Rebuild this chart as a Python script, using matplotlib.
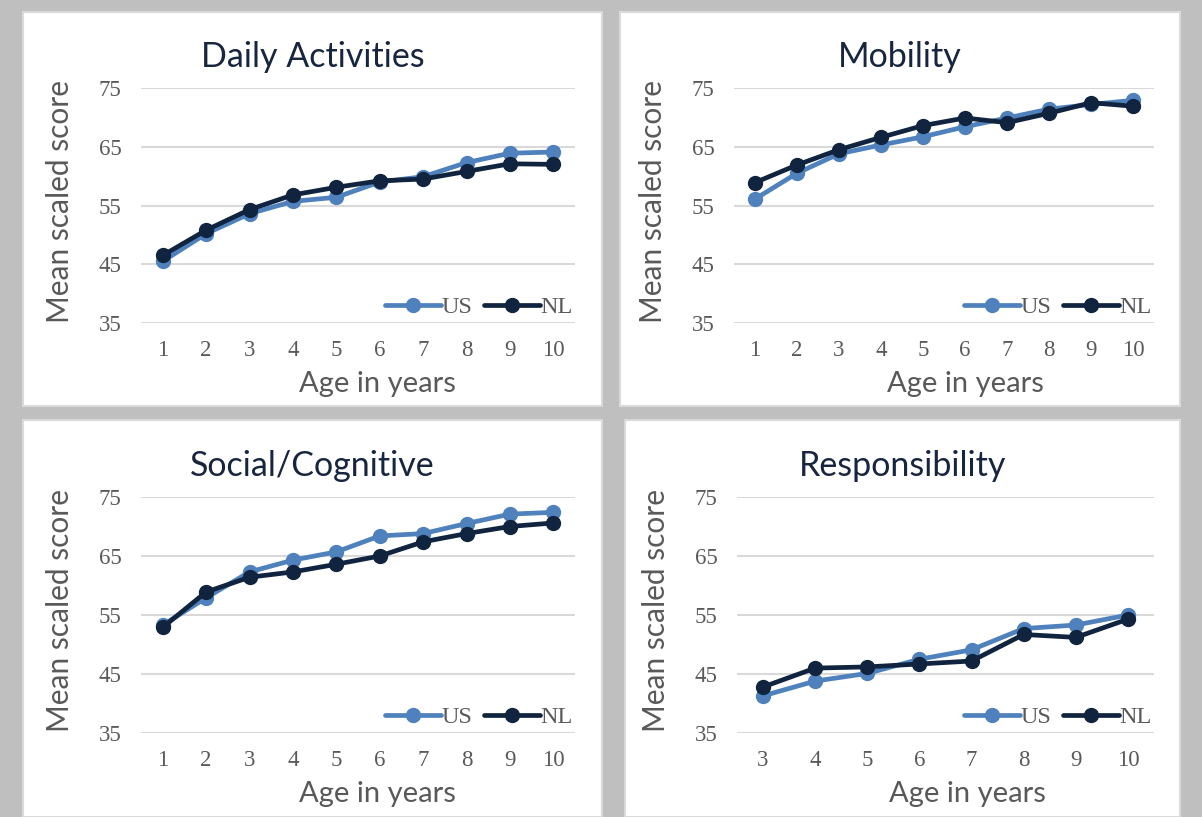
import matplotlib.pyplot as plt
from matplotlib.patches import Rectangle

# --------------------------------------------------
# Data
# --------------------------------------------------
ages_full = [1, 2, 3, 4, 5, 6, 7, 8, 9, 10]
ages_resp = [3, 4, 5, 6, 7, 8, 9, 10]

daily_us = [45.5, 50.2, 53.6, 55.7, 56.4, 59.0, 59.9, 62.3, 63.9, 64.1]
daily_nl = [46.5, 50.8, 54.3, 56.8, 58.1, 59.2, 59.5, 60.8, 62.1, 62.0]

mobility_us = [56.1, 60.5, 63.8, 65.3, 66.7, 68.4, 69.9, 71.4, 72.2, 72.9]
mobility_nl = [58.9, 61.9, 64.5, 66.6, 68.6, 69.9, 69.1, 70.7, 72.5, 71.9]

social_us = [53.3, 57.9, 62.3, 64.3, 65.7, 68.4, 68.8, 70.5, 72.1, 72.4]
social_nl = [52.9, 58.9, 61.4, 62.3, 63.6, 65.0, 67.4, 68.8, 70.0, 70.6]

resp_us = [41.3, 43.8, 45.1, 47.5, 49.1, 52.7, 53.3, 55.0]
resp_nl = [42.8, 46.0, 46.2, 46.7, 47.2, 51.7, 51.2, 54.3]

titles = ["Daily Activities", "Mobility", "Social/Cognitive", "Responsibility"]
y_ticks = [35, 45, 55, 65, 75]

US_COLOR = "#4f81bd"
NL_COLOR = "#10243f"
TITLE_COLOR = "#17253f"
LABEL_COLOR = "#595959"
GRID_COLOR = "#d9d9d9"

W, H = 1202, 817
fig = plt.figure(figsize=(W / 100, H / 100), dpi=100)
fig.patch.set_facecolor("#bfbfbf")

# panel boxes (pixel coords: left, top, right, bottom)
panels = [(23, 12, 602, 406), (620, 12, 1180, 406),
          (23, 420, 602, 817), (625, 420, 1180, 817)]
# axes areas (pixel coords: left, top, right, bottom)
axes_px = [(141, 88, 575, 323), (734, 88, 1154, 323),
           (141, 497, 575, 733), (737, 497, 1154, 733)]

# background axes holding the white panels
bg = fig.add_axes([0, 0, 1, 1], zorder=-1)
bg.set_xlim(0, W)
bg.set_ylim(H, 0)
bg.axis("off")
for (l, t, r, b) in panels:
    bg.add_patch(Rectangle((l, t), r - l, b - t, facecolor="white",
                           edgecolor="#d9d9d9", linewidth=1.5))

series = [
    (ages_full, daily_us, daily_nl),
    (ages_full, mobility_us, mobility_nl),
    (ages_full, social_us, social_nl),
    (ages_resp, resp_us, resp_nl),
]

for i, ((x, us, nl), title) in enumerate(zip(series, titles)):
    l, t, r, b = axes_px[i]
    ax = fig.add_axes([l / W, 1 - b / H, (r - l) / W, (b - t) / H], zorder=1)
    ax.set_facecolor("none")

    ax.plot(x, us, color=US_COLOR, linewidth=3.4, marker="o", markersize=10,
            label="US", zorder=3, solid_capstyle="round")
    ax.plot(x, nl, color=NL_COLOR, linewidth=3.4, marker="o", markersize=10,
            label="NL", zorder=4, solid_capstyle="round")

    ax.set_xlim(x[0] - 0.5, x[-1] + 0.5)
    ax.set_ylim(35, 75)
    ax.set_xticks(x)
    ax.set_yticks(y_ticks)
    for s in ax.spines.values():
        s.set_visible(False)
    ax.grid(axis="y", color=GRID_COLOR, linewidth=1.5)
    ax.set_axisbelow(True)
    ax.tick_params(length=0, colors=LABEL_COLOR, labelsize=16.5)
    ax.tick_params(axis="y", pad=14)
    ax.tick_params(axis="x", pad=12)
    for lab in ax.get_xticklabels() + ax.get_yticklabels():
        lab.set_family("Liberation Serif")

    leg = ax.legend(loc="center right", bbox_to_anchor=(1.0, 16 / (b - t)),
                    ncol=2, frameon=False, handlelength=2.3,
                    handletextpad=0.0, columnspacing=0.5, borderaxespad=0.0,
                    borderpad=0.1,
                    prop={"family": "Liberation Serif", "size": 17.5})
    for txt in leg.get_texts():
        txt.set_color(LABEL_COLOR)

    pl, pt, pr, pb = panels[i]
    cx = (pl + pr) / 2
    fig.text(cx / W, 1 - (t - 31) / H, title, ha="center", va="center",
             fontsize=24.5, color=TITLE_COLOR, family="Lato")
    fig.text((l - 81) / W, 1 - ((t + b) / 2 - 4) / H, "Mean scaled score",
             rotation=90, ha="center", va="center", fontsize=21.5,
             color=LABEL_COLOR, family="Lato")
    fig.text((cx + 65) / W, 1 - (b + 61) / H, "Age in years", ha="center",
             va="center", fontsize=21, color=LABEL_COLOR, family="Lato")

fig.savefig("out.png", dpi=100, facecolor=fig.get_facecolor())
